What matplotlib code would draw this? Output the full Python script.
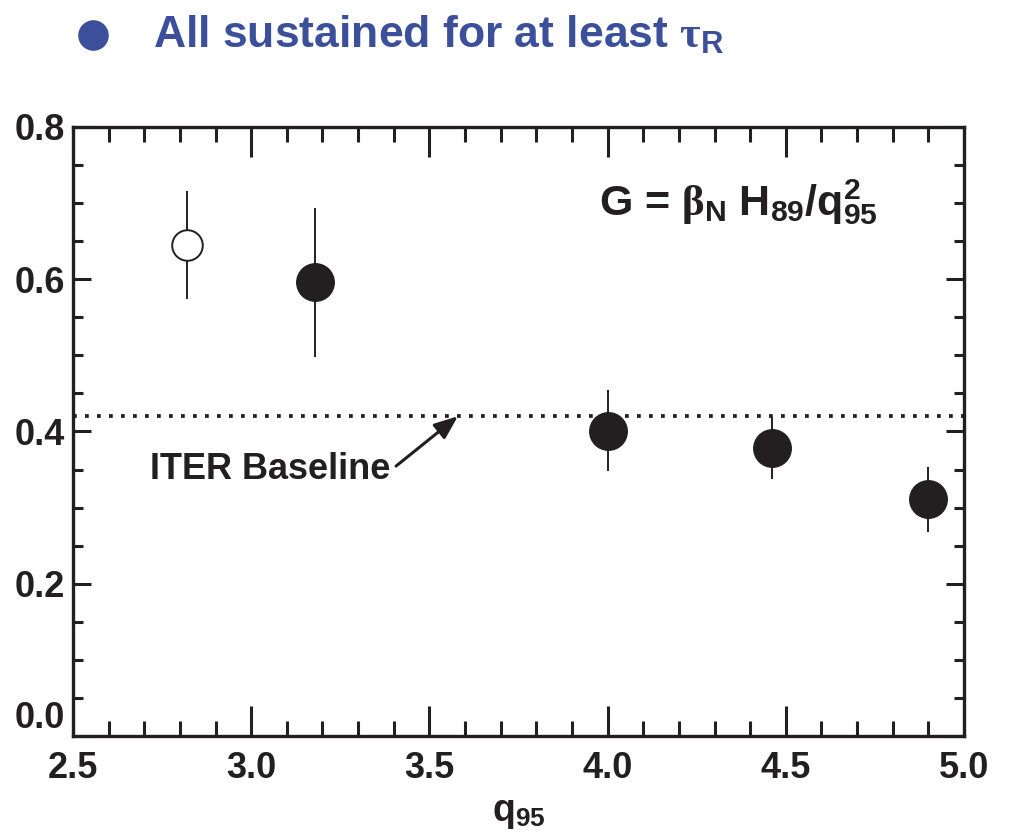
import numpy as np
import matplotlib
matplotlib.use("Agg")
import matplotlib.pyplot as plt
from matplotlib import font_manager
from matplotlib.lines import Line2D
from matplotlib.ticker import MultipleLocator

# ------------------- Data -------------------
q95_open = [2.82]
G_open = [0.645]
G_open_err = [0.071]

q95_sustained = [3.18, 4.00, 4.46, 4.90]
G_sustained = [0.597, 0.401, 0.378, 0.311]
G_sustained_err_low = [0.099, 0.053, 0.040, 0.043]
G_sustained_err_high = [0.097, 0.054, 0.041, 0.042]

iter_baseline = 0.42
x_ticks = [2.5, 3.0, 3.5, 4.0, 4.5, 5.0]
y_ticks = [0.0, 0.2, 0.4, 0.6, 0.8]

# ------------------- Fonts -------------------
names = {f.name for f in font_manager.fontManager.ttflist}
font = "Liberation Sans Narrow" if "Liberation Sans Narrow" in names else "Liberation Sans"
plt.rcParams["font.family"] = [font, "DejaVu Sans"]
plt.rcParams["font.weight"] = "bold"
plt.rcParams["mathtext.fontset"] = "custom"
plt.rcParams["mathtext.rm"] = f"{font}:bold"
plt.rcParams["mathtext.bf"] = f"{font}:bold"
plt.rcParams["mathtext.it"] = "Liberation Serif"

ink = "#231f20"
blue = "#3b4f9b"

# ------------------- Plotting -------------------
fig = plt.figure(figsize=(10.13, 8.32), dpi=100)
ax = fig.add_axes([0.0721, 0.1154, 0.8795, 0.732])

ax.errorbar(q95_open, G_open, yerr=G_open_err, fmt="o", ms=22, mfc="white",
            mec=ink, mew=1.4, ecolor=ink, elinewidth=1.4, capsize=0, zorder=3)
ax.errorbar(q95_sustained, G_sustained, yerr=[G_sustained_err_low, G_sustained_err_high],
            fmt="o", ms=27, mfc=ink, mec=ink, ecolor=ink, elinewidth=1.4, capsize=0, zorder=3)

ax.axhline(iter_baseline, color=ink, lw=2.7, linestyle=(0, (1, 2.2)),
           dash_capstyle="butt", zorder=2)

ax.annotate("ITER Baseline", xy=(3.58, iter_baseline), xytext=(2.715, 0.338),
            fontsize=26, fontweight="bold", color=ink, ha="left", va="baseline",
            arrowprops=dict(arrowstyle="-|>,head_length=0.55,head_width=0.22",
                            color=ink, lw=2.2, relpos=(1.0, 0.45), shrinkA=3, shrinkB=0))

ax.text(3.975, 0.684, r"G = $\beta_\mathrm{N}$ H$_{89}$/q$_{95}^{2}$",
        fontsize=31, fontweight="bold", color=ink, ha="left", va="baseline")

ax.set_xlim(2.5, 5.0)
ax.set_ylim(0.0, 0.8)
ax.set_xticks(x_ticks)
ax.set_yticks(y_ticks)
ax.set_xticklabels([f"{v:.1f}" for v in x_ticks])
ax.set_yticklabels([f"{v:.1f}" for v in y_ticks])
ax.xaxis.set_minor_locator(MultipleLocator(0.1))
ax.yaxis.set_minor_locator(MultipleLocator(0.05))

ax.tick_params(axis="both", which="both", direction="in", top=True, right=True,
               width=2.2, color=ink, labelcolor=ink, labelsize=26)
ax.tick_params(axis="x", which="major", length=21.5, pad=11)
ax.tick_params(axis="x", which="minor", length=11)
ax.tick_params(axis="y", which="major", length=13, pad=6)
ax.tick_params(axis="y", which="minor", length=7)
ax.get_yticklabels()[0].set_verticalalignment("bottom")
for s in ax.spines.values():
    s.set_linewidth(2.4)
    s.set_color(ink)

ax.set_xlabel(r"q$_{95}$", fontsize=27, fontweight="bold", color=ink, labelpad=6)

# header line
fig.add_artist(Line2D([0.0918], [0.958], marker="o", ms=21, color=blue,
                      transform=fig.transFigure))
fig.text(0.151, 0.943, r"All sustained for at least $\tau_\mathrm{R}$", fontsize=32,
         fontweight="bold", color=blue, ha="left", va="baseline")

fig.savefig("out.png", dpi=100)
